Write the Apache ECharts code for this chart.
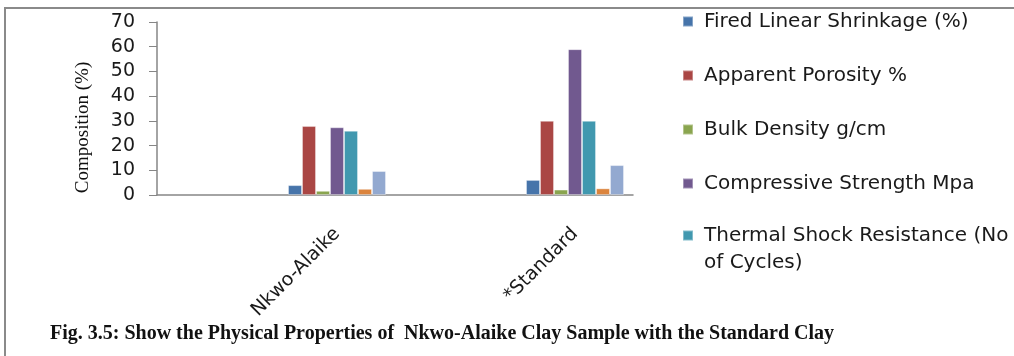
<!DOCTYPE html>
<html>
<head>
<meta charset="utf-8">
<script src="https://cdn.jsdelivr.net/npm/echarts@6/dist/echarts.min.js"></script>
<style>
  html, body { margin: 0; padding: 0; background: #fff; overflow: hidden; }
  #chart { width: 1014px; height: 356px; }
  #frame {
    position: absolute; left: 4px; top: 7px; width: 1010px; height: 349px;
    box-sizing: border-box;
    border-left: 2px solid #8a8a8a; border-top: 2px solid #8a8a8a;
    pointer-events: none;
  }
</style>
</head>
<body>
<div id="chart"></div>
<div id="frame"></div>
<script>
const categories = ['Nkwo-Alaike', '*Standard'];
const seriesNames = [
  'Fired Linear Shrinkage (%)',
  'Apparent Porosity %',
  'Bulk Density g/cm',
  'Compressive Strength Mpa',
  'Thermal Shock Resistance (No of Cycles)',
  'Series 6',
  'Series 7'
];
const firedShrinkage = [4, 6.1];
const apparentPorosity = [27.9, 30];
const bulkDensity = [1.7, 2.2];
const compressiveStrength = [27.4, 59];
const thermalShock = [26, 30];
const series6 = [2.5, 2.7];
const series7 = [9.7, 12.1];
const emptySeries = [null, null];   // empty series of the original sheet, they push the bars right
const yTicks = [0, 10, 20, 30, 40, 50, 60, 70];

const colors = ['#4674aa', '#aa4644', '#8aa54f', '#71598f', '#4198af', '#db843d', '#93a9d0'];
const values = [firedShrinkage, apparentPorosity, bulkDensity, compressiveStrength, thermalShock, series6, series7];

const chart = echarts.init(document.getElementById('chart'));

const barSeries = [{
  name: '',
  type: 'bar',
  barWidth: 122,
  barGap: '0%',
  data: emptySeries,
  silent: true
}];
values.forEach(function (v, i) {
  barSeries.push({
    name: seriesNames[i],
    type: 'bar',
    barWidth: 14,
    barGap: '0%',
    itemStyle: { color: colors[i], borderColor: 'rgba(255,255,255,0.35)', borderWidth: 1 },
    data: v
  });
});

const legendText = { fontFamily: 'DejaVu Sans', fontSize: 20, color: '#1a1a1a', lineHeight: 27, padding: [0, 0, 0, 6] };

chart.setOption({
  animation: false,
  title: {
    text: 'Fig. 3.5: Show the Physical Properties of  Nkwo-Alaike Clay Sample with the Standard Clay',
    left: 50,
    top: 324,
    padding: 0,
    textStyle: { fontFamily: 'Liberation Serif', fontWeight: 'bold', fontSize: 20, color: '#111' }
  },
  legend: [{
    orient: 'vertical',
    left: 682,
    top: 8,
    padding: 0,
    icon: 'rect',
    itemWidth: 10,
    itemHeight: 10,
    itemGap: 27,
    textStyle: legendText,
    data: seriesNames.slice(0, 4)
  }, {
    orient: 'vertical',
    left: 682,
    top: 195,
    padding: 0,
    icon: 'rect',
    itemWidth: 10,
    itemHeight: 10,
    textStyle: legendText,
    // blank first line keeps the marker level with the first text line
    formatter: function () {
      return '\nThermal Shock Resistance (No\nof Cycles)';
    },
    data: [seriesNames[4]]
  }],
  grid: [
    { left: 157, top: 22, width: 476, height: 173 },
    { left: 218, top: 22, width: 476, height: 173 }
  ],
  xAxis: [{
    type: 'category',
    gridIndex: 0,
    data: categories,
    axisLine: { lineStyle: { color: '#868686', width: 1.5 } },
    axisTick: { show: false },
    axisLabel: { show: false }
  }, {
    type: 'category',
    gridIndex: 1,
    data: categories,
    axisLine: { show: false },
    axisTick: { show: false },
    axisLabel: {
      rotate: 45,
      margin: 36,
      fontFamily: 'DejaVu Sans',
      fontSize: 19,
      color: '#1a1a1a'
    }
  }],
  yAxis: [{
    type: 'value',
    gridIndex: 0,
    min: yTicks[0],
    max: yTicks[yTicks.length - 1],
    interval: 10,
    name: 'Composition (%)',
    nameLocation: 'middle',
    nameGap: 64,
    nameTextStyle: { fontFamily: 'Liberation Serif', fontSize: 19, color: '#111', padding: [0, 38, 0, 0] },
    axisLine: { show: true, lineStyle: { color: '#868686', width: 1.5 } },
    axisTick: { show: true, length: 8, lineStyle: { color: '#868686' } },
    splitLine: { show: false },
    axisLabel: { margin: 22, fontFamily: 'DejaVu Sans', fontSize: 19, color: '#1a1a1a' }
  }, {
    type: 'value',
    gridIndex: 1,
    show: false
  }],
  series: barSeries
});
</script>
</body>
</html>
